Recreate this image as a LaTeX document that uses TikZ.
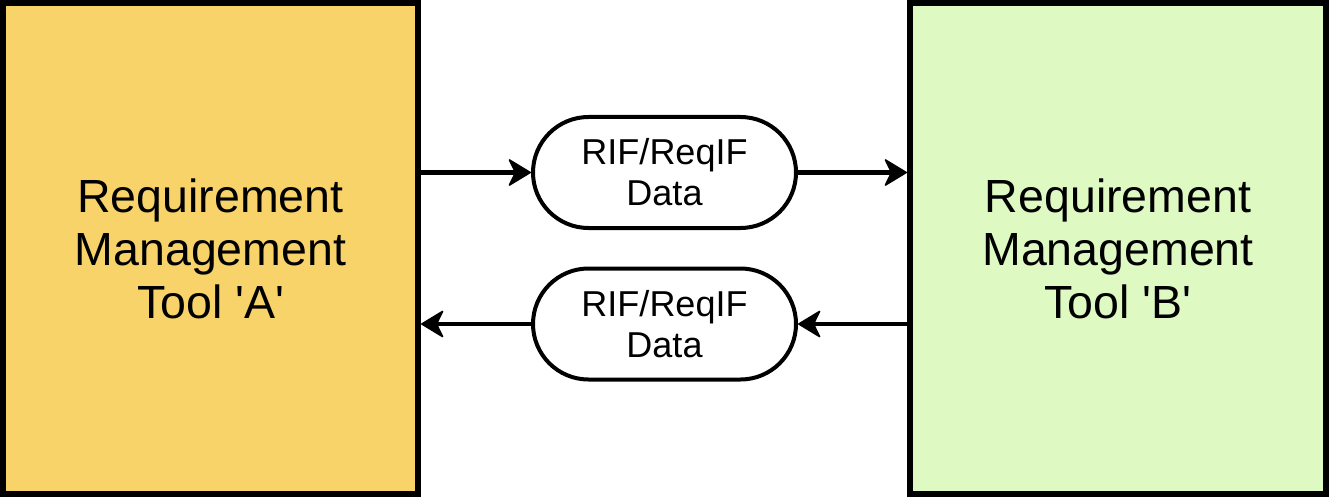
\documentclass[tikz,border=0pt]{standalone}
\usepackage{fontspec}
\setmainfont{Liberation Sans}
\usetikzlibrary{shapes.misc,arrows.meta}
\definecolor{toolA}{HTML}{F8D36A}
\definecolor{toolB}{HTML}{DFF9C3}
\tikzset{
  toolbox/.style={draw=black, line width=6pt, minimum width=415pt, minimum height=491pt, inner sep=0pt, align=center, font=\fontsize{46.5}{53}\selectfont},
  databox/.style={draw=black, fill=white, rounded rectangle, line width=4pt, minimum width=263pt, minimum height=111pt, inner sep=0pt, align=center, font=\fontsize{36}{41}\selectfont},
  flow/.style={line width=4.5pt, arrows={-Stealth[length=24pt,width=29pt,inset=7pt,line width=1.5pt,round]}}
}
\begin{document}
\begin{tikzpicture}[x=1pt,y=-1pt]
\useasboundingbox (0,0) rectangle (1329,497);
\node[toolbox, fill=toolA] (A) at (210.5,248.5) {Requirement\\Management\\Tool \textquotesingle A\textquotesingle};
\node[toolbox, fill=toolB, minimum width=416pt] (B) at (1118,248.5) {Requirement\\Management\\Tool \textquotesingle B\textquotesingle};
\node[databox] (d1) at (664.5,172.5) {RIF/ReqIF\\Data};
\node[databox] (d2) at (664.5,324) {RIF/ReqIF\\Data};
\draw[flow] (A.east |- d1.west) -- (d1.west);
\draw[flow] (d1.east) -- (B.west |- d1.east);
\draw[flow] (B.west |- d2.east) -- (d2.east);
\draw[flow] (d2.west) -- (A.east |- d2.west);
\end{tikzpicture}
\end{document}
